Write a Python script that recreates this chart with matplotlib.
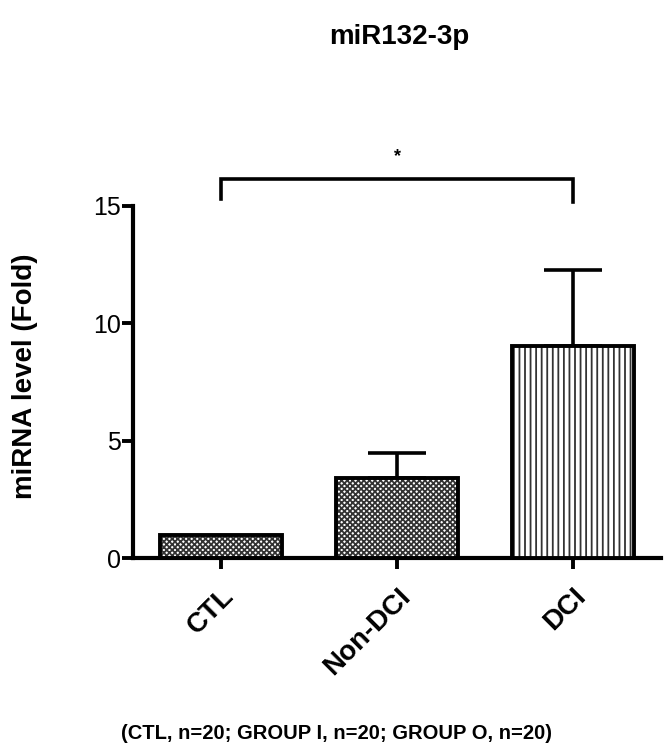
import matplotlib
matplotlib.use("Agg")
import matplotlib.pyplot as plt

plt.rcParams["font.family"] = ["Liberation Sans", "DejaVu Sans"]
plt.rcParams["hatch.linewidth"] = 1.3

groups = ["CTL", "Non-DCI", "DCI"]
means = [1.0, 3.4, 9.05]
sem_upper = [0.0, 1.07, 3.22]
hatches = ["xxxxxx", "xxxxxx", "|||"]
sig_pair = (0, 2)
sig_label = "*"
footnote = "(CTL, n=20; GROUP I, n=20; GROUP O, n=20)"

fig = plt.figure(figsize=(6.66, 7.49), dpi=100)
ax = fig.add_axes([0.2, 0.255, 0.7925, 0.564])

x = list(range(len(groups)))
bars = ax.bar(x, means, width=0.69, color="white", edgecolor="black",
              linewidth=2.8, zorder=3)
for b, h in zip(bars, hatches):
    b.set_hatch(h)
    b._hatch_color = (0.2, 0.2, 0.2, 1.0)

# upper error bars only (CTL is the reference = 1, no bar)
ax.errorbar(x[1:], means[1:], yerr=[[0] * 2, sem_upper[1:]], fmt="none",
            ecolor="black", elinewidth=2.6, capsize=21, capthick=2.6, zorder=2)

# significance bracket
i, j = sig_pair
ax.plot([i, i, j, j], [15.3, 16.15, 16.15, 15.15], color="black", lw=2.6,
        clip_on=False, solid_joinstyle="miter")
ax.text((i + j) / 2, 16.75, sig_label, ha="center", va="bottom", fontsize=13,
        fontweight="bold")

ax.set_xlim(-0.5, 2.5)
ax.set_ylim(0, 18)
ax.set_yticks([0, 5, 10, 15])
ax.set_xticks(x)
ax.set_xticklabels(groups, rotation=45, ha="right", rotation_mode="anchor",
                   fontsize=20, fontweight="bold")
ax.tick_params(axis="y", labelsize=18, width=2.8, length=8, pad=1)
ax.tick_params(axis="x", width=2.8, length=8, pad=10)

for s in ["top", "right"]:
    ax.spines[s].set_visible(False)
for s in ["left", "bottom"]:
    ax.spines[s].set_linewidth(3)
ax.spines["left"].set_bounds(0, 15)

fig.text(0.6, 0.95, "miR132-3p", ha="center", va="center", fontsize=20,
         fontweight="bold")
fig.text(0.038, 0.497, "miRNA level (Fold)", ha="center", va="center",
         rotation=90, fontsize=20, fontweight="bold")
fig.text(0.505, 0.021, footnote, ha="center", va="center", fontsize=14.5,
         fontweight="bold")

fig.savefig("out.png", dpi=100, facecolor="white")
